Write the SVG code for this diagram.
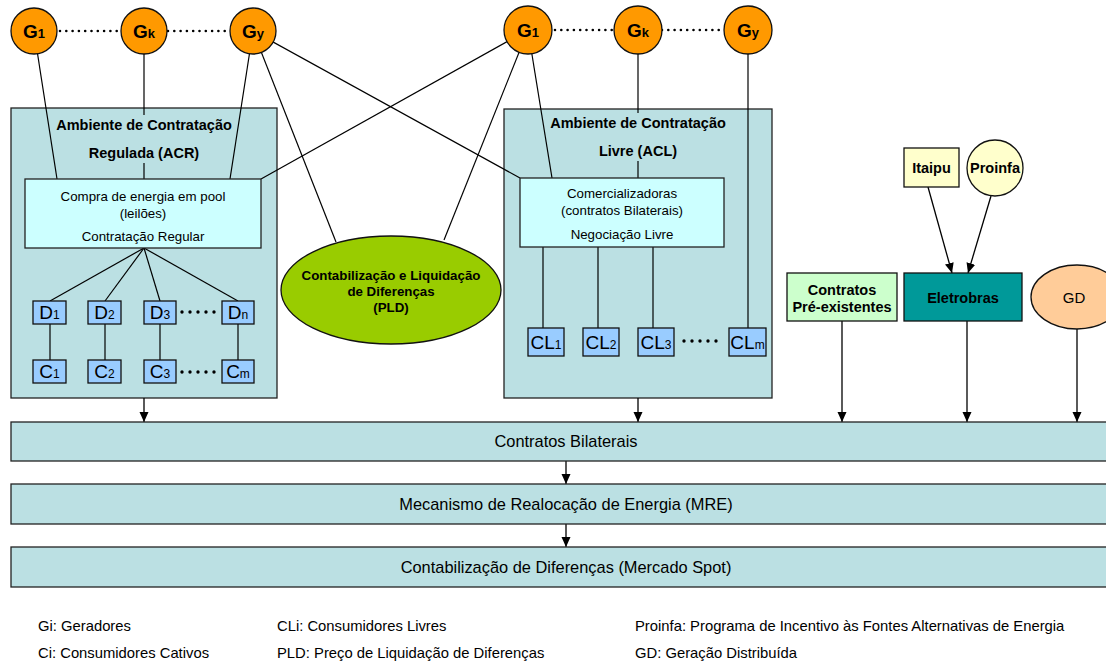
<svg xmlns="http://www.w3.org/2000/svg" width="1106" height="662" viewBox="0 0 1106 662">
<defs>
<marker id="arr" viewBox="0 0 10 10" refX="10" refY="5" markerWidth="10" markerHeight="10" markerUnits="userSpaceOnUse" orient="auto"><path d="M0,0.5 L10,5 L0,9.5 Z" fill="#000"/></marker>
<style>
text{font-family:"Liberation Sans",Arial,sans-serif;fill:#000}
.b{font-weight:bold}
.env{fill:#BBE0E3;stroke:#222;stroke-width:1.3}
.inner{fill:#CCFFFF;stroke:#222;stroke-width:1.3}
.gen{fill:#FF9900;stroke:#111;stroke-width:1.3}
.dc{fill:#99CCFF;stroke:#111;stroke-width:1.3}
.bar{fill:#BBE0E3;stroke:#222;stroke-width:1.3}
.ln{stroke:#000;stroke-width:1.2;fill:none}
.ar{stroke:#000;stroke-width:1.3;fill:none;marker-end:url(#arr)}
.dot{stroke:#000;stroke-width:2.6;stroke-linecap:round;stroke-dasharray:0 6.3;fill:none}
.dot2{stroke:#000;stroke-width:3.4;stroke-linecap:round;stroke-dasharray:0 8;fill:none}
.gl{font-size:19px;font-weight:bold}
.gs{font-size:13px}
.dl{font-size:19px}
.ds{font-size:12px}
.t14{font-size:14.5px;font-weight:bold}
.t13{font-size:13.3px}
.bt{font-size:16.4px}
.lg{font-size:14.8px}
</style>
</defs>

<g id="acr"><rect class="env" x="11" y="108" width="266" height="290"/>
<text class="t14" x="144" y="130" text-anchor="middle">Ambiente de Contratação</text>
<text class="t14" x="144" y="158" text-anchor="middle">Regulada (ACR)</text></g>
<g id="acl"><rect class="env" x="504" y="109" width="268" height="289"/>
<text class="t14" x="638" y="128" text-anchor="middle">Ambiente de Contratação</text>
<text class="t14" x="638" y="156" text-anchor="middle">Livre (ACL)</text></g>

<g id="connectors">
<line class="dot" x1="60" y1="31" x2="120" y2="31"/>
<line class="dot" x1="168" y1="31" x2="229" y2="31"/>
<line class="dot" x1="555" y1="30" x2="613" y2="30"/>
<line class="dot" x1="662" y1="30" x2="723" y2="30"/>
<line class="ln" x1="34" y1="31" x2="57" y2="179"/>
<line class="ln" x1="144" y1="31" x2="144" y2="115"/>
<line class="ln" x1="144" y1="163" x2="144" y2="179"/>
<line class="ln" x1="253" y1="31" x2="230" y2="179"/>
<line class="ln" x1="253" y1="31" x2="520" y2="178"/>
<line class="ln" x1="253" y1="31" x2="336" y2="242"/>
<line class="ln" x1="528" y1="30" x2="261" y2="179"/>
<line class="ln" x1="528" y1="30" x2="444" y2="240"/>
<line class="ln" x1="528" y1="30" x2="552" y2="178"/>
<line class="ln" x1="638" y1="30" x2="638" y2="113"/>
<line class="ln" x1="638" y1="161" x2="638" y2="178"/>
<line class="ln" x1="748" y1="30" x2="748" y2="328"/>
<line class="ln" x1="144" y1="248" x2="50" y2="301"/>
<line class="ln" x1="144" y1="248" x2="105" y2="301"/>
<line class="ln" x1="144" y1="248" x2="160" y2="301"/>
<line class="ln" x1="144" y1="248" x2="238" y2="301"/>
<line class="ln" x1="50" y1="324" x2="50" y2="360"/>
<line class="ln" x1="105" y1="324" x2="105" y2="360"/>
<line class="ln" x1="160" y1="324" x2="160" y2="360"/>
<line class="ln" x1="238" y1="324" x2="238" y2="360"/>
<line class="dot2" x1="182" y1="312" x2="216" y2="312"/>
<line class="dot2" x1="182" y1="372" x2="216" y2="372"/>
<line class="ln" x1="543" y1="247" x2="543" y2="328"/>
<line class="ln" x1="598" y1="247" x2="598" y2="328"/>
<line class="ln" x1="653" y1="247" x2="653" y2="328"/>
<line class="dot2" x1="684" y1="341" x2="718" y2="341"/>
<line class="ar" x1="144" y1="398" x2="144" y2="422"/>
<line class="ar" x1="638" y1="398" x2="638" y2="422"/>
<line class="ar" x1="842" y1="321" x2="842" y2="422"/>
<line class="ar" x1="967" y1="321" x2="967" y2="422"/>
<line class="ar" x1="1077" y1="329" x2="1077" y2="422"/>
<line class="ar" x1="566" y1="461" x2="566" y2="484"/>
<line class="ar" x1="566" y1="524" x2="566" y2="547"/>
<line class="ar" x1="928" y1="187" x2="952" y2="273"/>
<line class="ar" x1="991" y1="196" x2="968" y2="273"/>
</g>

<g id="g1l"><circle class="gen" cx="34" cy="31" r="23"/><text class="gl" x="34" y="38" text-anchor="middle">G<tspan class="gs">1</tspan></text></g>
<g id="gkl"><circle class="gen" cx="144" cy="31" r="23"/><text class="gl" x="144" y="38" text-anchor="middle">G<tspan class="gs">k</tspan></text></g>
<g id="gyl"><circle class="gen" cx="253" cy="31" r="23"/><text class="gl" x="253" y="38" text-anchor="middle">G<tspan class="gs">y</tspan></text></g>
<g id="g1r"><circle class="gen" cx="528" cy="30" r="24"/><text class="gl" x="528" y="37" text-anchor="middle">G<tspan class="gs">1</tspan></text></g>
<g id="gkr"><circle class="gen" cx="638" cy="30" r="24"/><text class="gl" x="638" y="37" text-anchor="middle">G<tspan class="gs">k</tspan></text></g>
<g id="gyr"><circle class="gen" cx="748" cy="30" r="24"/><text class="gl" x="748" y="37" text-anchor="middle">G<tspan class="gs">y</tspan></text></g>

<g id="pool"><rect class="inner" x="25" y="179" width="236" height="69"/>
<text class="t13" x="143" y="201" text-anchor="middle">Compra de energia em pool</text>
<text class="t13" x="143" y="218" text-anchor="middle">(leilões)</text>
<text class="t13" x="143" y="241" text-anchor="middle">Contratação Regular</text></g>
<g id="comerc"><rect class="inner" x="520" y="178" width="204" height="69"/>
<text class="t13" x="622" y="198" text-anchor="middle">Comercializadoras</text>
<text class="t13" x="622" y="215" text-anchor="middle">(contratos Bilaterais)</text>
<text class="t13" x="622" y="239" text-anchor="middle">Negociação Livre</text></g>

<g id="d1"><rect class="dc" x="33" y="301" width="33" height="23"/><text class="dl" x="49.5" y="319" text-anchor="middle">D<tspan class="ds">1</tspan></text></g>
<g id="d2"><rect class="dc" x="88" y="301" width="33" height="23"/><text class="dl" x="104.5" y="319" text-anchor="middle">D<tspan class="ds">2</tspan></text></g>
<g id="d3"><rect class="dc" x="144" y="301" width="32" height="23"/><text class="dl" x="160" y="319" text-anchor="middle">D<tspan class="ds">3</tspan></text></g>
<g id="dn"><rect class="dc" x="222" y="301" width="32" height="23"/><text class="dl" x="238" y="319" text-anchor="middle">D<tspan class="ds">n</tspan></text></g>
<g id="c1"><rect class="dc" x="33" y="360" width="33" height="23"/><text class="dl" x="49.5" y="378" text-anchor="middle">C<tspan class="ds">1</tspan></text></g>
<g id="c2"><rect class="dc" x="88" y="360" width="33" height="23"/><text class="dl" x="104.5" y="378" text-anchor="middle">C<tspan class="ds">2</tspan></text></g>
<g id="c3"><rect class="dc" x="144" y="360" width="32" height="23"/><text class="dl" x="160" y="378" text-anchor="middle">C<tspan class="ds">3</tspan></text></g>
<g id="cm"><rect class="dc" x="222" y="360" width="32" height="23"/><text class="dl" x="238" y="378" text-anchor="middle">C<tspan class="ds">m</tspan></text></g>

<g id="cl1"><rect class="dc" x="528" y="328" width="36" height="28"/><text class="dl" x="546" y="349" text-anchor="middle">CL<tspan class="ds">1</tspan></text></g>
<g id="cl2"><rect class="dc" x="583" y="328" width="36" height="28"/><text class="dl" x="601" y="349" text-anchor="middle">CL<tspan class="ds">2</tspan></text></g>
<g id="cl3"><rect class="dc" x="638" y="328" width="36" height="28"/><text class="dl" x="656" y="349" text-anchor="middle">CL<tspan class="ds">3</tspan></text></g>
<g id="clm"><rect class="dc" x="729" y="328" width="37" height="28"/><text class="dl" x="747.5" y="349" text-anchor="middle">CL<tspan class="ds">m</tspan></text></g>

<g id="pld"><ellipse cx="391" cy="290" rx="110" ry="54" fill="#99CC00" stroke="#111" stroke-width="1.3"/>
<text class="b" font-size="13.3" x="391" y="280" text-anchor="middle">Contabilização e Liquidação</text>
<text class="b" font-size="13.3" x="391" y="296" text-anchor="middle">de Diferenças</text>
<text class="b" font-size="13.3" x="391" y="312" text-anchor="middle">(PLD)</text></g>

<g id="itaipu"><rect x="904" y="148" width="55" height="39" fill="#FFFFCC" stroke="#111" stroke-width="1.3"/><text class="t14" x="931.5" y="173" text-anchor="middle">Itaipu</text></g>
<g id="proinfa"><circle cx="995" cy="168" r="28" fill="#FFFFCC" stroke="#111" stroke-width="1.3"/><text class="t14" x="995" y="173" text-anchor="middle">Proinfa</text></g>
<g id="preexist"><rect x="787" y="273" width="110" height="48" fill="#CCFFCC" stroke="#111" stroke-width="1.3"/>
<text class="t14" x="842" y="295" text-anchor="middle">Contratos</text>
<text class="t14" x="842" y="312" text-anchor="middle">Pré-existentes</text></g>
<g id="eletrobras"><rect x="904" y="273" width="118" height="48" fill="#009999" stroke="#111" stroke-width="1.3"/><text class="t14" x="963" y="303" text-anchor="middle">Eletrobras</text></g>
<g id="gd"><ellipse cx="1077" cy="297" rx="46" ry="32" fill="#FFCC99" stroke="#111" stroke-width="1.3"/><text font-size="15" x="1074" y="303" text-anchor="middle">GD</text></g>

<g id="bilaterais"><rect class="bar" x="11" y="422" width="1100" height="39"/><text class="bt" x="566" y="447" text-anchor="middle">Contratos Bilaterais</text></g>
<g id="mre"><rect class="bar" x="11" y="484" width="1100" height="40"/><text class="bt" x="566" y="510" text-anchor="middle">Mecanismo de Realocação de Energia (MRE)</text></g>
<g id="spot"><rect class="bar" x="11" y="547" width="1100" height="40"/><text class="bt" x="566" y="573" text-anchor="middle">Contabilização de Diferenças (Mercado Spot)</text></g>

<g id="legend">
<text class="lg" x="38" y="631">Gi: Geradores</text>
<text class="lg" x="38" y="658">Ci: Consumidores Cativos</text>
<text class="lg" x="277" y="631">CLi: Consumidores Livres</text>
<text class="lg" x="277" y="658">PLD: Preço de Liquidação de Diferenças</text>
<text class="lg" x="635" y="631">Proinfa: Programa de Incentivo às Fontes Alternativas de Energia</text>
<text class="lg" x="635" y="658">GD: Geração Distribuída</text>
</g>
</svg>
